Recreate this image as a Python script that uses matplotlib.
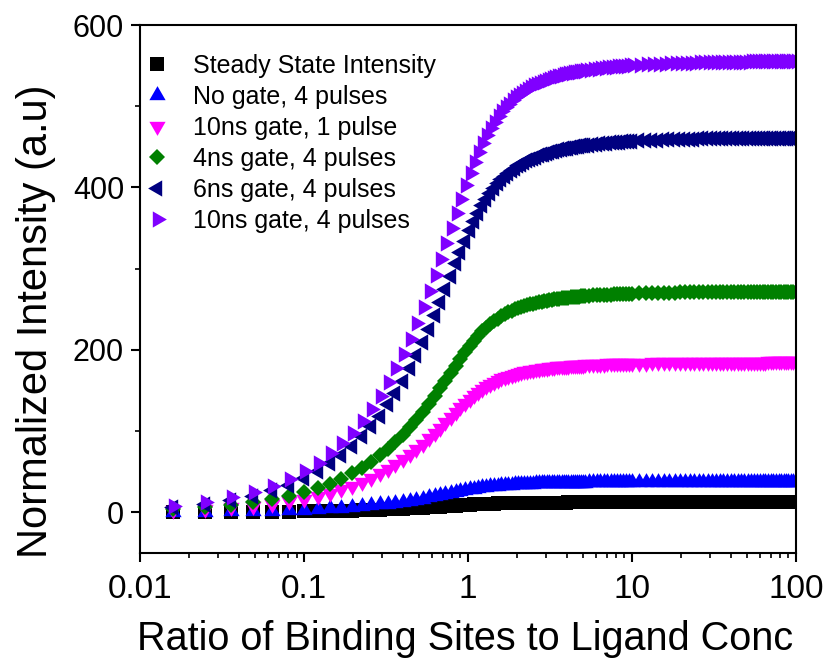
import matplotlib
matplotlib.use("Agg")
import matplotlib.pyplot as plt
from matplotlib import font_manager
from matplotlib.ticker import MultipleLocator, LogLocator, NullFormatter

# ---------------- data ----------------
ratio = [0.016, 0.025, 0.036, 0.049, 0.064, 0.081, 0.1, 0.121, 0.144, 0.169,
         0.196, 0.225, 0.256, 0.289, 0.324, 0.361, 0.4, 0.441, 0.484, 0.529,
         0.576, 0.625, 0.676, 0.729, 0.784, 0.841, 0.9, 0.961, 1.024, 1.089,
         1.156, 1.225, 1.296, 1.369, 1.444, 1.521, 1.6,
         1.764, 1.936, 2.116, 2.304, 2.5, 2.704, 2.916, 3.136, 3.364, 3.6,
         3.844, 4.096, 4.356, 4.624, 4.9, 5.184, 5.476, 5.776, 6.084, 6.4,
         6.724, 7.056, 7.396, 7.744, 8.1, 8.464, 8.836, 9.216, 9.604, 10.0,
         11.025, 12.1, 13.225, 14.4, 15.625, 16.9, 18.225, 19.6, 21.025, 22.5,
         24.025, 25.6, 27.225, 28.9, 30.625, 32.4, 34.225, 36.1, 38.025, 40.0,
         42.025, 44.1, 46.225, 48.4, 50.625, 52.9, 55.225, 57.6, 60.025, 62.5,
         65.025, 67.6, 70.225, 72.9, 75.625, 78.4, 81.225, 84.1, 87.025, 90.0,
         93.025, 96.1, 100.0]

steady = [0.2, 0.3, 0.4, 0.6, 0.7, 0.9, 1.1, 1.4, 1.6, 1.9,
          2.2, 2.5, 2.9, 3.2, 3.6, 4.0, 4.4, 4.8, 5.2, 5.7,
          6.1, 6.6, 7.0, 7.5, 7.9, 8.3, 8.7, 9.1, 9.4, 9.7,
          10.0, 10.2, 10.5, 10.6, 10.8, 11.0, 11.1,
          11.3, 11.5, 11.6, 11.7, 11.8, 11.9, 12.0, 12.0, 12.0, 12.1,
          12.1, 12.2, 12.2, 12.2, 12.2, 12.2, 12.3, 12.3, 12.3, 12.3,
          12.3, 12.3, 12.3, 12.3, 12.3, 12.4, 12.4, 12.4, 12.4, 12.4,
          12.4, 12.4, 12.4, 12.4, 12.4, 12.4, 12.4, 12.4, 12.4, 12.4,
          12.5, 12.5, 12.5, 12.5, 12.5, 12.5, 12.5, 12.5, 12.5, 12.5,
          12.5, 12.5, 12.5, 12.5, 12.5, 12.5, 12.5, 12.5, 12.5, 12.5,
          12.5, 12.5, 12.5, 12.5, 12.5, 12.5, 12.5, 12.5, 12.5, 12.5,
          12.5, 12.5, 12.5]

nogate_4p = [0.6, 0.9, 1.2, 1.7, 2.2, 2.8, 3.4, 4.1, 4.9, 5.7,
             6.6, 7.6, 8.6, 9.7, 10.8, 12.0, 13.2, 14.4, 15.7, 17.0,
             18.4, 19.7, 21.0, 22.4, 23.6, 24.9, 26.1, 27.2, 28.2, 29.1,
             30.0, 30.7, 31.4, 31.9, 32.5, 32.9, 33.3,
             33.9, 34.5, 34.9, 35.2, 35.4, 35.7, 35.9, 36.0, 36.1, 36.3,
             36.4, 36.5, 36.5, 36.6, 36.7, 36.7, 36.8, 36.8, 36.9, 36.9,
             36.9, 37.0, 37.0, 37.0, 37.0, 37.1, 37.1, 37.1, 37.1, 37.1,
             37.2, 37.2, 37.2, 37.3, 37.3, 37.3, 37.3, 37.3, 37.3, 37.3,
             37.4, 37.4, 37.4, 37.4, 37.4, 37.4, 37.4, 37.4, 37.4, 37.4,
             37.4, 37.4, 37.4, 37.4, 37.4, 37.4, 37.4, 37.4, 37.4, 37.4,
             37.5, 37.5, 37.5, 37.5, 37.5, 37.5, 37.5, 37.5, 37.5, 37.5,
             37.5, 37.5, 37.5]

gate10_1p = [2.7, 4.3, 6.1, 8.3, 10.9, 13.7, 16.9, 20.4, 24.3, 28.4,
             32.9, 37.6, 42.6, 48.0, 53.5, 59.3, 65.3, 71.6, 78.0, 84.5,
             91.1, 97.7, 104.3, 110.9, 117.3, 123.4, 129.3, 134.7, 139.8, 144.4,
             148.6, 152.3, 155.6, 158.4, 161.0, 163.2, 165.1,
             168.4, 170.9, 172.9, 174.5, 175.8, 176.9, 177.8, 178.6, 179.3, 179.9,
             180.4, 180.8, 181.2, 181.5, 181.8, 182.1, 182.4, 182.6, 182.8, 183.0,
             183.1, 183.3, 183.4, 183.6, 183.7, 183.8, 183.9, 184.0, 184.1, 184.2,
             184.3, 184.5, 184.6, 184.8, 184.9, 185.0, 185.0, 185.1, 185.2, 185.2,
             185.3, 185.3, 185.4, 185.4, 185.4, 185.5, 185.5, 185.5, 185.6, 185.6,
             185.6, 185.6, 185.6, 185.6, 185.7, 185.7, 185.7, 185.7, 185.7, 185.7,
             185.7, 185.8, 185.8, 185.8, 185.8, 185.8, 185.8, 185.8, 185.8, 185.8,
             185.8, 185.8, 185.8]

gate4_4p = [4.0, 6.2, 8.9, 12.2, 15.9, 20.1, 24.8, 29.9, 35.5, 41.6,
            48.1, 55.0, 62.3, 70.1, 78.3, 86.7, 95.6, 104.6, 114.0, 123.5,
            133.2, 142.9, 152.6, 162.2, 171.5, 180.5, 189.0, 197.0, 204.4, 211.2,
            217.3, 222.7, 227.5, 231.7, 235.4, 238.6, 241.5,
            246.2, 249.9, 252.8, 255.2, 257.1, 258.7, 260.1, 261.2, 262.2, 263.0,
            263.8, 264.4, 265.0, 265.4, 265.9, 266.3, 266.7, 267.0, 267.3, 267.6,
            267.8, 268.0, 268.2, 268.4, 268.6, 268.8, 268.9, 269.1, 269.2, 269.3,
            269.6, 269.8, 270.0, 270.2, 270.3, 270.5, 270.6, 270.7, 270.8, 270.9,
            270.9, 271.0, 271.1, 271.1, 271.2, 271.2, 271.3, 271.3, 271.3, 271.4,
            271.4, 271.4, 271.5, 271.5, 271.5, 271.5, 271.6, 271.6, 271.6, 271.6,
            271.6, 271.6, 271.6, 271.7, 271.7, 271.7, 271.7, 271.7, 271.7, 271.7,
            271.7, 271.8, 271.8]

gate6_4p = [6.8, 10.6, 15.2, 20.7, 27.0, 34.1, 42.0, 50.8, 60.3, 70.6,
            81.6, 93.4, 105.9, 119.1, 132.9, 147.3, 162.3, 177.7, 193.6, 209.8,
            226.2, 242.7, 259.2, 275.4, 291.3, 306.5, 321.1, 334.7, 347.2, 358.7,
            369.0, 378.2, 386.4, 393.5, 399.8, 405.3, 410.2,
            418.2, 424.4, 429.4, 433.4, 436.7, 439.5, 441.7, 443.7, 445.3, 446.8,
            448.0, 449.1, 450.0, 450.9, 451.7, 452.3, 452.9, 453.5, 454.0, 454.5,
            454.9, 455.3, 455.6, 455.9, 456.2, 456.5, 456.8, 457.0, 457.2, 457.4,
            457.9, 458.3, 458.6, 458.9, 459.2, 459.4, 459.6, 459.8, 460.0, 460.1,
            460.2, 460.3, 460.4, 460.5, 460.6, 460.7, 460.8, 460.8, 460.9, 460.9,
            461.0, 461.0, 461.1, 461.1, 461.2, 461.2, 461.3, 461.3, 461.3, 461.4,
            461.4, 461.4, 461.4, 461.4, 461.4, 461.5, 461.5, 461.5, 461.5, 461.5,
            461.5, 461.6, 461.6]

gate10_4p = [8.2, 12.7, 18.3, 24.9, 32.5, 41.0, 50.6, 61.1, 72.6, 85.0,
             98.2, 112.4, 127.4, 143.3, 160.0, 177.3, 195.3, 213.9, 233.0, 252.5,
             272.3, 292.1, 311.9, 331.5, 350.6, 368.9, 386.4, 402.8, 417.9, 431.7,
             444.1, 455.2, 465.0, 473.6, 481.2, 487.8, 493.6,
             503.3, 510.8, 516.8, 521.6, 525.6, 528.9, 531.6, 533.9, 535.9, 537.7,
             539.2, 540.4, 541.6, 542.6, 543.5, 544.3, 545.1, 545.8, 546.4, 546.9,
             547.4, 547.9, 548.3, 548.7, 549.1, 549.4, 549.7, 550.0, 550.3, 550.5,
             551.1, 551.6, 551.9, 552.3, 552.6, 552.9, 553.1, 553.3, 553.6, 553.7,
             553.8, 554.0, 554.1, 554.2, 554.3, 554.4, 554.5, 554.6, 554.7, 554.7,
             554.8, 554.8, 554.9, 554.9, 555.0, 555.1, 555.1, 555.1, 555.2, 555.2,
             555.2, 555.3, 555.3, 555.3, 555.3, 555.4, 555.4, 555.4, 555.4, 555.4,
             555.4, 555.5, 555.5]

# extra (interleaved) readings in the 1.7 - 5 range where points are densest
ratio_fill = [1.681, 1.849, 2.025, 2.209, 2.401, 2.601, 2.809, 3.025,
              3.249, 3.481, 3.721, 3.969, 4.225, 4.489, 4.761, 5.041]
steady_fill = [11.2, 11.4, 11.6, 11.7, 11.8, 11.9, 11.9, 12.0,
               12.0, 12.1, 12.1, 12.1, 12.2, 12.2, 12.2, 12.2]
nogate_4p_fill = [33.6, 34.2, 34.7, 35.0, 35.3, 35.6, 35.8, 35.9,
                  36.1, 36.2, 36.3, 36.4, 36.5, 36.6, 36.6, 36.7]
gate10_1p_fill = [166.8, 169.7, 171.9, 173.7, 175.2, 176.4, 177.4, 178.2,
                  179.0, 179.6, 180.1, 180.6, 181.0, 181.4, 181.7, 182.0]
gate4_4p_fill = [244.0, 248.2, 251.4, 254.1, 256.2, 258.0, 259.4, 260.7,
                 261.7, 262.6, 263.4, 264.1, 264.7, 265.2, 265.7, 266.1]
gate6_4p_fill = [414.4, 421.5, 427.1, 431.5, 435.2, 438.1, 440.6, 442.7,
                 444.5, 446.0, 447.4, 448.6, 449.6, 450.5, 451.3, 452.0]
gate10_4p_fill = [498.7, 507.3, 514.0, 519.3, 523.7, 527.3, 530.3, 532.8,
                  535.0, 536.8, 538.4, 539.8, 541.0, 542.1, 543.1, 543.9]

labels = ["Steady State Intensity", "No gate, 4 pulses", "10ns gate, 1 pulse",
          "4ns gate, 4 pulses", "6ns gate, 4 pulses", "10ns gate, 4 pulses"]
x_ticks = [0.01, 0.1, 1, 10, 100]
x_tick_labels = ["0.01", "0.1", "1", "10", "100"]
y_ticks = [0, 200, 400, 600]
x_label = "Ratio of Binding Sites to Ligand Conc"
y_label = "Normalized Intensity (a.u)"

# ---------------- fonts ----------------
def has_font(name):
    try:
        font_manager.findfont(name, fallback_to_default=False)
        return True
    except Exception:
        return False

base_font = "Liberation Sans" if has_font("Liberation Sans") else "DejaVu Sans"
plt.rcParams["font.family"] = [base_font, "DejaVu Sans"]

# ---------------- figure ----------------
fig = plt.figure(figsize=(8.27, 6.62), dpi=100)
ax = fig.add_axes([0.1693, 0.1647, 0.7932, 0.7975])

series = [
    (steady,    steady_fill,    "black",   "s",         9.4),
    (nogate_4p, nogate_4p_fill, "#0000ff", (3, 0, 0),   13.5),
    (gate10_1p, gate10_1p_fill, "#ff00ff", (3, 0, 180), 13.5),
    (gate4_4p,  gate4_4p_fill,  "#008000", "D",         8.2),
    (gate6_4p,  gate6_4p_fill,  "#000080", (3, 0, 90),  13.5),
    (gate10_4p, gate10_4p_fill, "#8000ff", (3, 0, 270), 13.5),
]
for (ys, yf, col, mk, ms), lab in zip(series, labels):
    ax.plot(ratio + ratio_fill, ys + yf, linestyle="none", marker=mk,
            markersize=ms, color=col, markeredgewidth=0, label=lab)

ax.set_xscale("log")
ax.set_xlim(0.01, 100)
ax.set_ylim(-50, 600)
ax.set_xticks(x_ticks, x_tick_labels)
ax.xaxis.set_minor_locator(LogLocator(base=10, subs=range(2, 10), numticks=20))
ax.xaxis.set_minor_formatter(NullFormatter())
ax.set_yticks(y_ticks)
ax.yaxis.set_minor_locator(MultipleLocator(100))

for sp in ax.spines.values():
    sp.set_linewidth(1.5)
ax.tick_params(which="major", direction="out", length=6.5, width=1.5)
ax.tick_params(which="minor", direction="out", length=3.5, width=1.2)
ax.tick_params(axis="y", which="major", labelsize=22, pad=5)
ax.tick_params(axis="x", which="major", labelsize=24, pad=9)

fig.text(0.562, 0.018, x_label, ha="center", va="baseline", fontsize=28.5)
fig.text(0.044, 0.515, y_label, ha="center", va="center",
         rotation=90, fontsize=30)

leg = ax.legend(loc="upper left", bbox_to_anchor=(0.009, 0.945),
                frameon=False, fontsize=18, numpoints=1,
                handlelength=0.9, handletextpad=1.0, labelspacing=0.28,
                borderpad=0, borderaxespad=0)

fig.savefig("out.png", dpi=100)
